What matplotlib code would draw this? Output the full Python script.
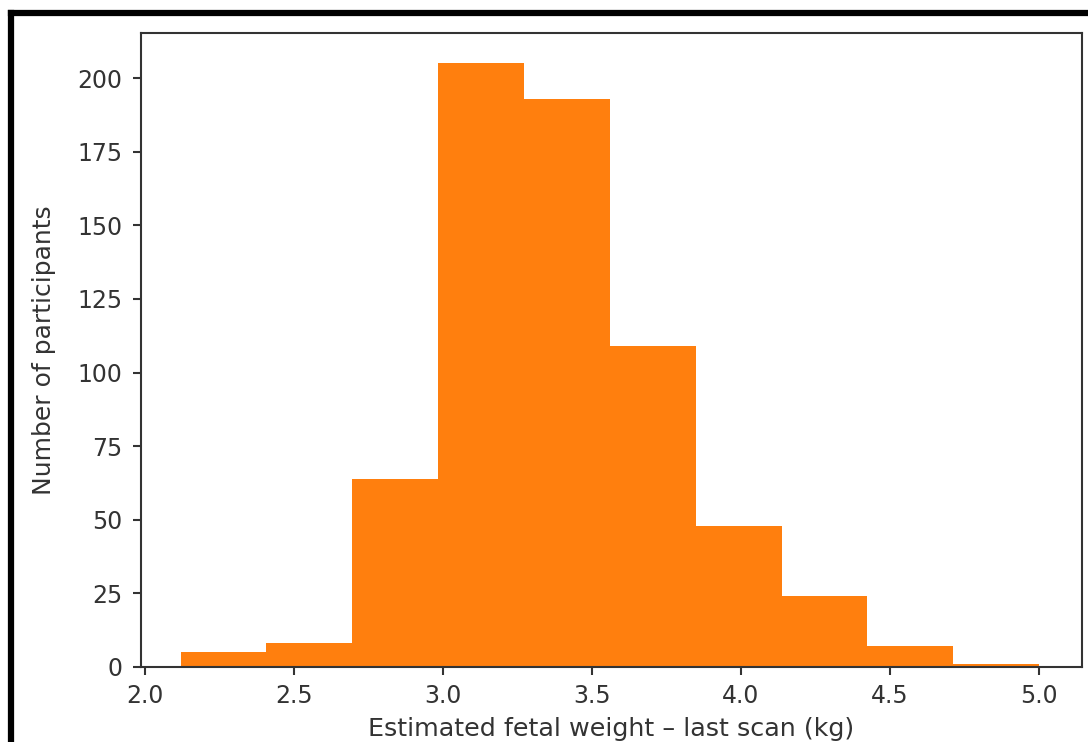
import matplotlib
matplotlib.use("Agg")
import matplotlib.pyplot as plt
from matplotlib.lines import Line2D

# histogram of estimated fetal weight (kg), 10 bins
bin_edges = [2.12, 2.408, 2.696, 2.984, 3.272, 3.56, 3.848, 4.136, 4.424, 4.712, 5.0]
counts = [5, 8, 64, 205, 193, 109, 48, 24, 7, 1]
xticks = [2.0, 2.5, 3.0, 3.5, 4.0, 4.5, 5.0]
yticks = [0, 25, 50, 75, 100, 125, 150, 175, 200]

widths = [b - a for a, b in zip(bin_edges[:-1], bin_edges[1:])]

fig = plt.figure(figsize=(10.88, 7.42), dpi=100)
ax = fig.add_axes([0.1296, 0.1011, 0.8649, 0.8544])

ax.bar(bin_edges[:-1], counts, width=widths, align="edge", color="#ff7f0e")
ax.set_xticks(xticks)
ax.set_yticks(yticks)
ax.set_xlim(1.987, 5.144)
ax.set_ylim(0, 215.3)

ax.tick_params(labelsize=17, length=5.5, width=1.5, colors="#333333", labelcolor="#333333")
ax.tick_params(axis="y", pad=8)
ax.tick_params(axis="x", pad=6.5)
for s in ax.spines.values():
    s.set_linewidth(1.5)
    s.set_color("#333333")

ax.set_xlabel("Estimated fetal weight \u2013 last scan (kg)", fontsize=18.3, color="#333333", labelpad=7)
ax.set_ylabel("Number of participants", fontsize=18, color="#333333")
ax.yaxis.set_label_coords(-0.0905, 0.5)

# black frame of the screenshot (top and left edges)
fig.add_artist(Line2D([0.0105, 1.0], [0.982, 0.982], transform=fig.transFigure, color="black", linewidth=4.5))
fig.add_artist(Line2D([0.0105, 0.0105], [0.0, 0.982], transform=fig.transFigure, color="black", linewidth=4.5))

fig.savefig("out.png", dpi=100)
